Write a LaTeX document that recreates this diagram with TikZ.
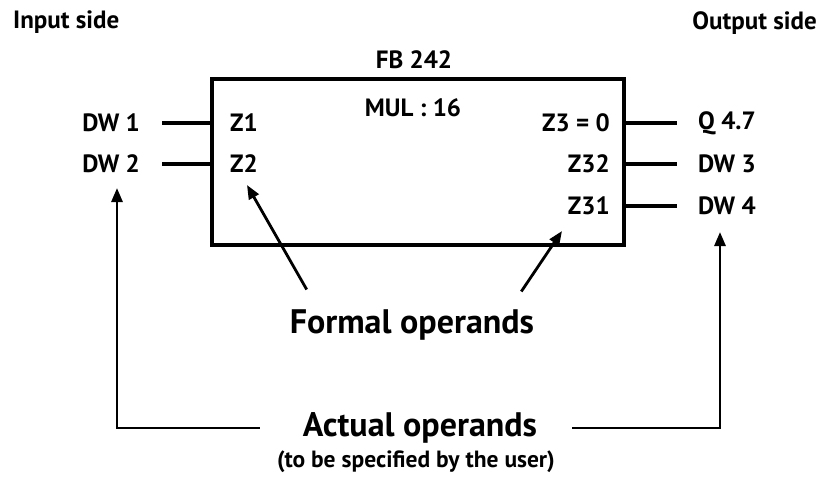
\documentclass[tikz,border=0pt]{standalone}
\usepackage{fontspec}
\setmainfont{PT Sans}
\usetikzlibrary{arrows.meta,positioning}

\begin{document}
\begin{tikzpicture}[x=1pt,y=-1pt,
		lbl/.style={inner sep=0pt, font=\bfseries\fontsize{25}{28}\selectfont},
		biglbl/.style={inner sep=0pt, font=\bfseries\fontsize{34}{38}\selectfont},
		notelbl/.style={inner sep=0pt, font=\bfseries\fontsize{23.5}{26}\selectfont},
		fbbox/.style={draw, line width=3.2pt, minimum width=412pt, minimum height=166pt, inner sep=0pt},
		wire/.style={line width=3.2pt},
		arrow/.style={line width=2.8pt, line join=miter, -{Triangle[length=14pt,width=11pt]}}
		]
		\useasboundingbox (0,0) rectangle (823,482);
		
		% sides
		\node[lbl, anchor=west] (inside) at (13,22) {Input side};
		\node[lbl, anchor=east] (outside) at (817,23) {Output side};
		
		% function block
		\node[fbbox] (fb) at (418,162) {};
		\node[lbl] (fbname) at (414,60) {FB 242};
		\node[lbl] (mul) at (413,108) {MUL : 16};
		
		% formal operands
		\node[lbl, anchor=west] (z1) at (230,123) {Z1};
		\node[lbl, anchor=west] (z2) at (230,164) {Z2};
		\node[lbl, anchor=east] (z3) at (610,123) {Z3 = 0};
		\node[lbl, anchor=east] (z32) at (610,164) {Z32};
		\node[lbl, anchor=east] (z31) at (610,206) {Z31};
		
		% actual operands
		\node[lbl, anchor=east] (dw1) at (140,123) {DW 1};
		\node[lbl, anchor=east] (dw2) at (140,164) {DW 2};
		\node[lbl, anchor=west] (q47) at (698,123) {Q 4.7};
		\node[lbl, anchor=west] (dw3) at (698,164) {DW 3};
		\node[lbl, anchor=west] (dw4) at (698,206) {DW 4};
		
		% wires
		\draw[wire] ([xshift=22pt]dw1.east) -- (dw1.east -| fb.west);
		\draw[wire] ([xshift=22pt]dw2.east) -- (dw2.east -| fb.west);
		\draw[wire] (fb.east |- q47.west) -- ([xshift=-21pt]q47.west);
		\draw[wire] (fb.east |- dw3.west) -- ([xshift=-21pt]dw3.west);
		\draw[wire] (fb.east |- dw4.west) -- ([xshift=-21pt]dw4.west);
		
		% captions
		\node[biglbl] (formal) at (412,325) {Formal operands};
		\node[biglbl] (actual) at (420,428) {Actual operands};
		\node[notelbl] (note) at (416,462) {(to be specified by the user)};
		
		\coordinate (z2tip) at (247,185);
		\coordinate (z31tip) at (562,231);
		\coordinate (dw2tip) at (117,188);
		\coordinate (dw4tip) at (720,232);
		
		% arrows
		\draw[arrow] ([xshift=17pt,yshift=20pt]formal.north west) -- (z2tip);
		\draw[arrow] ([xshift=-13pt,yshift=18pt]formal.north east) -- (z31tip);
		\draw[arrow] ([xshift=-43pt]actual.west) -| (dw2tip);
		\draw[arrow] ([xshift=35pt]actual.east) -| (dw4tip);
	\end{tikzpicture}
\end{document}
